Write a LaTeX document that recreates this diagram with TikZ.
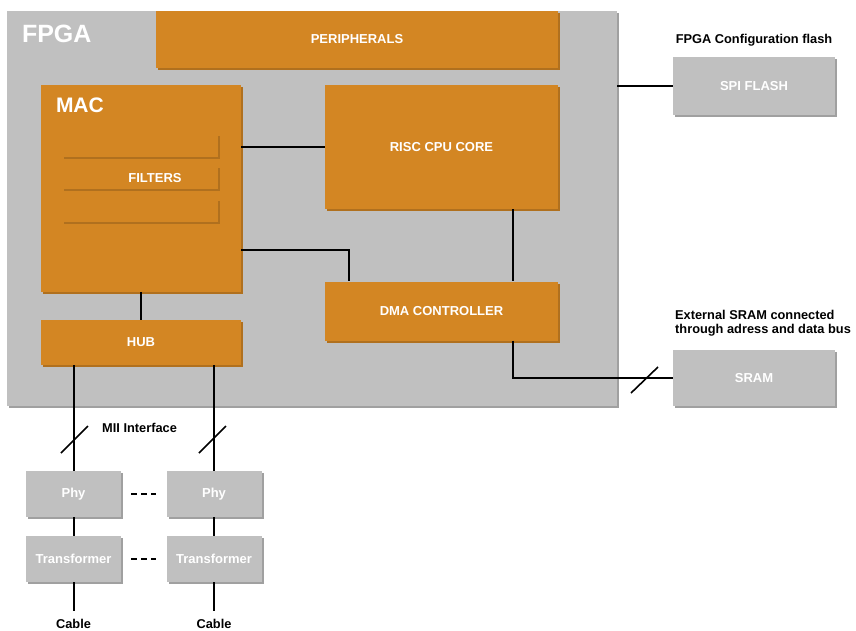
\documentclass[tikz,border=0pt]{standalone}
\usepackage{fontspec}
\setmainfont{Liberation Sans}
\usetikzlibrary{calc}
\usetikzlibrary{shadows}
\definecolor{fpgaorange}{RGB}{211,134,35}
\definecolor{orangeshade}{RGB}{176,112,30}
\definecolor{boxgray}{RGB}{192,192,192}
\definecolor{grayshade}{RGB}{160,160,160}
\tikzset{
    block/.style={
           rectangle,
           fill=fpgaorange,
           text=white,
           inner sep=0pt,
           font=\bfseries\fontsize{13}{15}\selectfont,
           drop shadow={shadow xshift=2pt, shadow yshift=-2pt, fill=orangeshade, opacity=1},
           },
    extbox/.style={
           rectangle,
           fill=boxgray,
           text=white,
           inner sep=0pt,
           font=\bfseries\fontsize{13}{15}\selectfont,
           drop shadow={shadow xshift=2pt, shadow yshift=-2pt, fill=grayshade, opacity=1},
           },
    wire/.style={draw=black, line width=2pt},
    busmark/.style={draw=black, line width=1.6pt},
    caption/.style={font=\bfseries\fontsize{12.8}{14.5}\selectfont, inner sep=0pt},
}
\begin{document}
\begin{tikzpicture}[x=1pt,y=-1pt]
   \useasboundingbox (0,0) rectangle (856,630);
   % FPGA and its blocks
   \node[extbox, minimum width=610pt, minimum height=395pt, drop shadow={shadow xshift=1.5pt, shadow yshift=-1.5pt, fill=grayshade, opacity=1}] (fpga) at (312,208.5) {};
   \node[text=white, font=\bfseries\fontsize{25}{28}\selectfont, inner sep=0pt, anchor=north west] (fpgalbl) at ($(fpga.north west)+(15,14)$) {FPGA};
   \node[block, minimum width=402pt, minimum height=57pt] (periph) at (357,39.5) {PERIPHERALS};
   \node[block, minimum width=200pt, minimum height=207pt] (mac) at (141,188.5) {};
   \node[text=white, font=\bfseries\fontsize{21}{24}\selectfont, inner sep=0pt, anchor=north west] (maclbl) at ($(mac.north west)+(15,13)$) {MAC};
   \foreach \fy in {158,190,223}
      \draw[orangeshade, line width=2.2pt] (64,\fy) -- (219,\fy) -- (219,\fy-22);
   \node[text=white, font=\bfseries\fontsize{13}{15}\selectfont] (filters) at (155,178) {FILTERS};
   \node[block, minimum width=233pt, minimum height=124pt] (risc) at (441.5,147) {RISC CPU CORE};
   \node[block, minimum width=233pt, minimum height=59pt] (dma) at (441.5,311) {DMA CONTROLLER};
   \node[block, minimum width=200pt, minimum height=45pt] (hub) at (141,342.5) {HUB};
   % outside the FPGA
   \node[extbox, minimum width=162pt, minimum height=58pt] (spi) at (754,86) {SPI FLASH};
   \node[extbox, minimum width=162pt, minimum height=56pt] (sram) at (754,378) {SRAM};
   \node[caption] (flashlbl) at (754,40) {FPGA Configuration flash};
   \node[caption, align=left, anchor=north west] (sramlbl) at (675,310) {External SRAM connected\\through adress and data bus};
   \node[extbox, minimum width=95pt, minimum height=46pt] (phy1) at (73.5,494) {Phy};
   \node[extbox, minimum width=95pt, minimum height=46pt] (phy2) at (214,494) {Phy};
   \node[extbox, minimum width=95pt, minimum height=46pt] (tr1) at (73.5,559) {Transformer};
   \node[extbox, minimum width=95pt, minimum height=46pt] (tr2) at (214,559) {Transformer};
   \node[caption, anchor=west] (mii) at (102,428) {MII Interface};
   \node[caption] (cab1) at (73.5,624) {Cable};
   \node[caption] (cab2) at (214,624) {Cable};
   % connections
   \draw[wire] (mac.east |- risc.west) -- (risc.west);
   \draw[wire] ($(mac.east)+(0,61.5)$) -| ($(dma.north west)+(24,0)$);
   \draw[wire] ($(risc.south east)+(-45,0)$) -- ($(dma.north east)+(-45,0)$);
   \draw[wire] ($(dma.south east)+(-45,0)$) |- (sram.west);
   \draw[wire] (fpga.east |- spi.west) -- (spi.west);
   \draw[wire] (mac.south) -- (hub.north);
   \draw[wire] (hub.south -| phy1.north) -- (phy1.north);
   \draw[wire] (hub.south -| phy2.north) -- (phy2.north);
   \draw[wire] (phy1) -- (tr1);
   \draw[wire] (phy2) -- (tr2);
   \draw[wire] (tr1.south) -- ($(cab1.north)+(0,-8)$);
   \draw[wire] (tr2.south) -- ($(cab2.north)+(0,-8)$);
   \draw[wire, dash pattern=on 6pt off 4pt] ($(phy1.east)+(10,0)$) -- ($(phy2.west)+(-10,0)$);
   \draw[wire, dash pattern=on 6pt off 4pt] ($(tr1.east)+(10,0)$) -- ($(tr2.west)+(-10,0)$);
   % bus marks
   \draw[busmark] (631,393) -- (658,367);
   \draw[busmark] (61,453) -- (88,426);
   \draw[busmark] (199,453) -- (226,426);
\end{tikzpicture}
\end{document}
